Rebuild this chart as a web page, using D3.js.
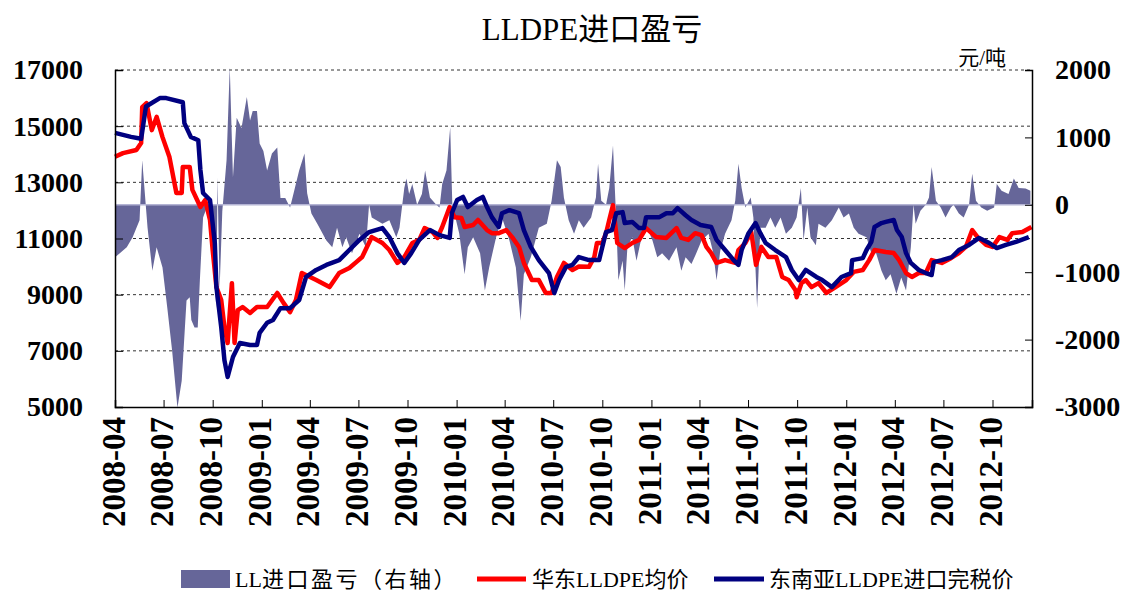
<!DOCTYPE html>
<html>
<head>
<meta charset="utf-8">
<script src="https://cdn.jsdelivr.net/npm/d3@7"></script>
<style>
  body { margin: 0; background: #fff; }
  svg { display: block; }
</style>
</head>
<body>
<div id="chart-area"></div>
<script>
// LL进口盈亏（右轴）, 元/吨
const profit = [
  ['2008-04-01', -777], ['2008-04-10', -720], ['2008-04-23', -630], ['2008-05-04', -480],
  ['2008-05-17', -230], ['2008-05-22', 660], ['2008-05-28', 60], ['2008-06-01', -340],
  ['2008-06-10', -980], ['2008-06-18', -630], ['2008-06-29', -930], ['2008-07-08', -1530],
  ['2008-07-17', -2160], ['2008-07-27', -3010], ['2008-08-04', -2610], ['2008-08-13', -1420],
  ['2008-08-19', -1370], ['2008-08-22', -1710], ['2008-08-28', -1820], ['2008-09-03', -1820],
  ['2008-09-07', -1120], ['2008-09-13', -190], ['2008-09-20', -40], ['2008-09-26', -190],
  ['2008-10-01', -830], ['2008-10-08', -1530], ['2008-10-10', 410], ['2008-10-14', -1250],
  ['2008-10-19', -100], ['2008-10-27', 660], ['2008-11-02', 2040], ['2008-11-08', 410],
  ['2008-11-15', 1290], ['2008-11-24', 1140], ['2008-12-04', 1600], ['2008-12-10', 1250],
  ['2008-12-15', 1390], ['2008-12-23', 1390], ['2008-12-28', 910], ['2009-01-04', 800],
  ['2009-01-11', 510], ['2009-01-20', 760], ['2009-01-30', 850], ['2009-02-05', 100],
  ['2009-02-14', 100], ['2009-02-23', -40], ['2009-03-04', 250], ['2009-03-12', 510],
  ['2009-03-22', 760], ['2009-03-27', 170], ['2009-04-04', -130], ['2009-04-15', -280],
  ['2009-05-02', -530], ['2009-05-13', -630], ['2009-05-22', -340], ['2009-06-01', -630],
  ['2009-06-08', -480], ['2009-06-19', -720], ['2009-07-03', -430], ['2009-07-15', -630],
  ['2009-07-21', 0], ['2009-07-26', -190], ['2009-08-15', -280], ['2009-08-28', -230],
  ['2009-09-10', -480], ['2009-09-16', -340], ['2009-09-25', 250], ['2009-09-29', 390],
  ['2009-10-04', 160], ['2009-10-10', 310], ['2009-10-19', 0], ['2009-10-28', 160],
  ['2009-11-03', 510], ['2009-11-12', 110], ['2009-11-24', 0], ['2009-11-30', -40],
  ['2009-12-05', 310], ['2009-12-13', 510], ['2009-12-20', 1150], ['2009-12-24', 0],
  ['2010-01-06', -430], ['2010-01-16', -1030], ['2010-01-22', -630], ['2010-02-01', -480],
  ['2010-02-14', -720], ['2010-02-23', -1270], ['2010-03-03', -930], ['2010-03-16', -480],
  ['2010-03-27', -190], ['2010-04-10', -530], ['2010-04-22', -930], ['2010-05-01', -1720],
  ['2010-05-07', -1030], ['2010-05-20', -780], ['2010-06-04', -340], ['2010-06-19', -280],
  ['2010-06-28', 60], ['2010-07-08', 660], ['2010-07-15', 560], ['2010-07-21', 110],
  ['2010-07-30', -230], ['2010-08-09', -430], ['2010-08-18', -230], ['2010-08-27', -340],
  ['2010-09-10', -190], ['2010-09-19', 110], ['2010-09-23', 610], ['2010-09-29', 60],
  ['2010-10-08', 0], ['2010-10-14', 250], ['2010-10-21', 880], ['2010-10-27', -230],
  ['2010-10-31', -1120], ['2010-11-08', -830], ['2010-11-12', -1270], ['2010-11-17', -630],
  ['2010-11-26', -480], ['2010-12-04', -830], ['2010-12-15', -430], ['2010-12-24', -340],
  ['2011-01-03', -530], ['2011-01-12', -780], ['2011-01-21', -720], ['2011-02-03', -830],
  ['2011-02-17', -630], ['2011-02-26', -980], ['2011-03-06', -780], ['2011-03-17', -880],
  ['2011-03-26', -720], ['2011-04-05', -530], ['2011-04-18', -430], ['2011-04-27', -720],
  ['2011-05-03', -1120], ['2011-05-10', -680], ['2011-05-19', -430], ['2011-05-31', -230],
  ['2011-06-07', 60], ['2011-06-13', 610], ['2011-06-19', 250], ['2011-06-26', -40],
  ['2011-07-06', 110], ['2011-07-11', -190], ['2011-07-18', -1530], ['2011-07-24', -340],
  ['2011-08-03', -340], ['2011-08-12', -190], ['2011-08-21', -340], ['2011-08-31', -190],
  ['2011-09-10', -430], ['2011-09-21', -340], ['2011-09-30', -190], ['2011-10-08', 250],
  ['2011-10-13', -530], ['2011-10-20', -40], ['2011-10-26', -480], ['2011-11-05', -600],
  ['2011-11-10', -280], ['2011-11-23', -340], ['2011-12-05', -230], ['2011-12-18', -40],
  ['2011-12-27', -190], ['2012-01-06', -130], ['2012-01-15', -340], ['2012-01-24', -430],
  ['2012-02-08', -480], ['2012-02-17', -720], ['2012-02-26', -720], ['2012-03-07', -980],
  ['2012-03-15', -1120], ['2012-03-24', -1030], ['2012-04-04', -1320], ['2012-04-13', -1080],
  ['2012-04-22', -1270], ['2012-05-01', -630], ['2012-05-06', 0], ['2012-05-10', -280],
  ['2012-05-19', -90], ['2012-05-29', 0], ['2012-06-04', 110], ['2012-06-09', 560],
  ['2012-06-17', 60], ['2012-06-26', -40], ['2012-07-05', -190], ['2012-07-15', -40],
  ['2012-07-20', 0], ['2012-07-30', -130], ['2012-08-08', -190], ['2012-08-18', 0],
  ['2012-08-24', 460], ['2012-08-31', 60], ['2012-09-10', -40], ['2012-09-21', -90],
  ['2012-10-04', -40], ['2012-10-09', 310], ['2012-10-18', 210], ['2012-10-31', 160],
  ['2012-11-10', 390], ['2012-11-19', 250], ['2012-12-02', 240], ['2012-12-11', 210]
]

// 华东LLDPE均价
const eastChina = [
  ['2008-04-01', 13910], ['2008-04-16', 14040], ['2008-05-11', 14150], ['2008-05-20', 14400],
  ['2008-05-22', 15680], ['2008-05-30', 15820], ['2008-06-09', 14860], ['2008-06-18', 15330],
  ['2008-06-29', 14610], ['2008-07-12', 13900], ['2008-07-25', 12620], ['2008-08-04', 12620],
  ['2008-08-06', 13550], ['2008-08-19', 13550], ['2008-08-24', 12730], ['2008-09-08', 12120],
  ['2008-09-17', 12370], ['2008-09-26', 11660], ['2008-10-01', 10590], ['2008-10-08', 9270],
  ['2008-10-17', 8810], ['2008-10-23', 7850], ['2008-10-29', 7280], ['2008-11-06', 9410],
  ['2008-11-11', 7280], ['2008-11-17', 8450], ['2008-11-26', 8560], ['2008-12-10', 8350],
  ['2008-12-23', 8560], ['2009-01-11', 8560], ['2009-01-30', 9060], ['2009-02-11', 8700],
  ['2009-02-23', 8380], ['2009-03-06', 8810], ['2009-03-17', 9770], ['2009-04-13', 9520],
  ['2009-05-08', 9270], ['2009-05-26', 9770], ['2009-06-14', 9950], ['2009-06-27', 10160],
  ['2009-07-08', 10340], ['2009-07-26', 11050], ['2009-08-15', 10840], ['2009-08-28', 10590],
  ['2009-09-12', 10130], ['2009-09-25', 10340], ['2009-10-10', 10840], ['2009-10-23', 10950],
  ['2009-11-02', 11370], ['2009-11-17', 11230], ['2009-11-26', 11020], ['2009-12-05', 11410],
  ['2009-12-19', 12120], ['2009-12-28', 11760], ['2010-01-10', 11730], ['2010-01-16', 11410],
  ['2010-02-01', 11480], ['2010-02-10', 11660], ['2010-02-27', 11300], ['2010-03-08', 11190],
  ['2010-03-21', 11190], ['2010-04-04', 11300], ['2010-04-15', 11050], ['2010-04-28', 10700],
  ['2010-05-07', 10130], ['2010-05-22', 9520], ['2010-06-04', 9520], ['2010-06-17', 9060],
  ['2010-06-28', 9060], ['2010-07-08', 9630], ['2010-07-21', 10130], ['2010-08-06', 9880],
  ['2010-08-18', 10000], ['2010-09-06', 9990], ['2010-09-16', 10340], ['2010-09-21', 10840],
  ['2010-10-01', 10840], ['2010-10-08', 11190], ['2010-10-14', 11660], ['2010-10-21', 12190],
  ['2010-10-29', 10840], ['2010-11-12', 10660], ['2010-11-26', 10840], ['2010-12-09', 10950],
  ['2010-12-22', 11370], ['2011-01-10', 11050], ['2011-01-29', 11020], ['2011-02-17', 11370],
  ['2011-02-26', 11020], ['2011-03-11', 10950], ['2011-03-24', 11190], ['2011-04-05', 11120],
  ['2011-04-14', 10700], ['2011-04-23', 10480], ['2011-05-03', 10130], ['2011-05-19', 10230],
  ['2011-06-07', 10130], ['2011-06-13', 10590], ['2011-06-26', 10840], ['2011-07-07', 11230],
  ['2011-07-16', 10060], ['2011-07-26', 10700], ['2011-08-08', 10340], ['2011-08-23', 10340],
  ['2011-09-03', 9630], ['2011-09-15', 9520], ['2011-09-28', 9160], ['2011-09-30', 8910],
  ['2011-10-09', 9410], ['2011-10-17', 9520], ['2011-10-28', 9270], ['2011-11-10', 9410],
  ['2011-11-25', 9060], ['2011-12-12', 9270], ['2012-01-01', 9520], ['2012-01-15', 9810],
  ['2012-02-01', 9880], ['2012-02-13', 10230], ['2012-02-23', 10590], ['2012-03-15', 10520],
  ['2012-03-30', 10480], ['2012-04-09', 10230], ['2012-04-22', 9770], ['2012-05-03', 9630],
  ['2012-05-16', 9770], ['2012-05-29', 9770], ['2012-06-09', 10230], ['2012-06-28', 10130],
  ['2012-07-15', 10300], ['2012-07-30', 10480], ['2012-08-12', 10700], ['2012-08-24', 11300],
  ['2012-09-03', 11050], ['2012-09-19', 10770], ['2012-10-01', 10700], ['2012-10-14', 11050],
  ['2012-10-29', 10950], ['2012-11-07', 11190], ['2012-11-26', 11230], ['2012-12-13', 11410]
]

// 东南亚LLDPE进口完税价
const seaImport = [
  ['2008-04-01', 14760], ['2008-05-01', 14620], ['2008-05-20', 14550], ['2008-05-29', 15700],
  ['2008-06-24', 16000], ['2008-07-06', 16000], ['2008-08-06', 15850], ['2008-08-09', 15110],
  ['2008-08-21', 14620], ['2008-09-04', 14500], ['2008-09-08', 13440], ['2008-09-13', 12620],
  ['2008-09-26', 12370], ['2008-10-05', 10840], ['2008-10-08', 9270], ['2008-10-17', 7850],
  ['2008-10-23', 6670], ['2008-10-29', 6070], ['2008-11-08', 6780], ['2008-11-21', 7280],
  ['2008-12-10', 7210], ['2008-12-23', 7210], ['2008-12-28', 7640], ['2009-01-11', 8000],
  ['2009-01-22', 8100], ['2009-02-05', 8520], ['2009-02-23', 8520], ['2009-03-12', 8810],
  ['2009-03-25', 9630], ['2009-04-13', 9880], ['2009-05-02', 10060], ['2009-05-26', 10230],
  ['2009-06-14', 10590], ['2009-07-03', 10950], ['2009-07-21', 11230], ['2009-08-15', 11370],
  ['2009-08-28', 11050], ['2009-09-12', 10480], ['2009-09-25', 10130], ['2009-10-08', 10480],
  ['2009-10-23', 10950], ['2009-11-12', 11300], ['2009-11-30', 11120], ['2009-12-19', 11020],
  ['2009-12-23', 11900], ['2010-01-02', 12370], ['2010-01-13', 12480], ['2010-01-22', 12120],
  ['2010-02-08', 12370], ['2010-02-19', 12480], ['2010-02-27', 12120], ['2010-03-08', 11760],
  ['2010-03-21', 11410], ['2010-03-27', 11900], ['2010-04-10', 12010], ['2010-04-28', 11900],
  ['2010-05-07', 11300], ['2010-05-20', 10700], ['2010-06-04', 10230], ['2010-06-23', 9770],
  ['2010-07-03', 9060], ['2010-07-12', 9520], ['2010-07-25', 9990], ['2010-08-06', 10060],
  ['2010-08-18', 10340], ['2010-09-06', 10230], ['2010-09-25', 10230], ['2010-10-01', 10700],
  ['2010-10-08', 11230], ['2010-10-19', 11300], ['2010-10-27', 11900], ['2010-11-08', 11940],
  ['2010-11-12', 11550], ['2010-11-26', 11590], ['2010-12-09', 11370], ['2010-12-18', 11370],
  ['2010-12-22', 11760], ['2011-01-16', 11760], ['2011-01-29', 11900], ['2011-02-10', 11900],
  ['2011-02-19', 12080], ['2011-03-06', 11830], ['2011-03-17', 11660], ['2011-04-03', 11480],
  ['2011-04-23', 11410], ['2011-05-03', 10950], ['2011-05-19', 10590], ['2011-06-04', 10230],
  ['2011-06-13', 10060], ['2011-06-19', 10590], ['2011-07-02', 11190], ['2011-07-15', 11550],
  ['2011-07-24', 11190], ['2011-08-03', 10840], ['2011-08-21', 10590], ['2011-09-10', 10340],
  ['2011-09-21', 9880], ['2011-10-04', 9520], ['2011-10-17', 9880], ['2011-11-06', 9630],
  ['2011-11-17', 9520], ['2011-12-05', 9270], ['2011-12-23', 9630], ['2012-01-10', 9770],
  ['2012-01-12', 10230], ['2012-02-01', 10300], ['2012-02-08', 10590], ['2012-02-17', 10880],
  ['2012-02-23', 11410], ['2012-03-07', 11550], ['2012-03-15', 11590], ['2012-03-30', 11660],
  ['2012-04-05', 11300], ['2012-04-14', 11050], ['2012-04-22', 10480], ['2012-05-01', 10130],
  ['2012-05-16', 9880], ['2012-05-29', 9770], ['2012-06-09', 9700], ['2012-06-13', 10160],
  ['2012-06-28', 10230], ['2012-07-17', 10340], ['2012-07-30', 10590], ['2012-08-18', 10770],
  ['2012-09-06', 11020], ['2012-09-25', 10840], ['2012-10-09', 10660], ['2012-10-26', 10770],
  ['2012-11-14', 10880], ['2012-12-08', 11050]
]

const leftTicks = [5000, 7000, 9000, 11000, 13000, 15000, 17000]
const rightTicks = [-3000, -2000, -1000, 0, 1000, 2000]
const dateRange = ['2008-04-01', '2012-12-14']

const legendItems = [['LL', '进口盈亏（右轴）'], ['', '华东LLDPE均价'], ['', '东南亚LLDPE进口完税价']]

const margin = {top: 70, right: 101, bottom: 189, left: 115}
const W = 1133, H = 596
const width = W - margin.left - margin.right
const height = H - margin.top - margin.bottom

const parse = d3.timeParse('%Y-%m-%d')
const serif = '"Liberation Serif", "Times New Roman", serif'
const cjk = '"Liberation Serif", "Noto Sans CJK SC", serif'

const svg = d3.select('#chart-area')
  .append('svg')
    .attr('width', W)
    .attr('height', H)

svg.append('text')
  .attr('x', 592)
  .attr('y', 40)
  .attr('text-anchor', 'middle')
  .attr('font-family', cjk)
  .attr('font-size', '31px')
  .text('LLDPE进口盈亏')

svg.append('text')
  .attr('x', 1006)
  .attr('y', 65)
  .attr('text-anchor', 'end')
  .attr('font-family', cjk)
  .attr('font-size', '21px')
  .text('元/吨')

const g = svg.append('g')
  .attr('transform', `translate(${margin.left},${margin.top})`)

const x = d3.scaleTime()
  .domain(dateRange.map(parse))
  .range([0, width])

const yL = d3.scaleLinear().domain([5000, 17000]).range([height, 0])
const yR = d3.scaleLinear().domain([-3000, 2000]).range([height, 0])

// dashed gridlines
g.selectAll('.grid')
  .data(leftTicks.slice(1))
  .enter().append('line')
    .attr('x1', 0).attr('x2', width)
    .attr('y1', d => yL(d)).attr('y2', d => yL(d))
    .attr('stroke', '#333')
    .attr('stroke-width', 1)
    .attr('stroke-dasharray', '3,3')

// profit area against right axis
const toPts = arr => arr.map(d => ({date: parse(d[0]), v: d[1]}))

const area = d3.area()
  .x(d => x(d.date))
  .y0(yR(0))
  .y1(d => yR(d.v))

g.append('path')
  .datum(toPts(profit))
  .attr('fill', '#666699')
  .attr('d', area)

g.append('line')
  .attr('x1', 0).attr('x2', width)
  .attr('y1', yR(0)).attr('y2', yR(0))
  .attr('stroke', '#b4b4d4')
  .attr('stroke-width', 1.5)

const line = d3.line()
  .x(d => x(d.date))
  .y(d => yL(d.v))

g.append('path')
  .datum(toPts(eastChina))
  .attr('fill', 'none')
  .attr('stroke', '#ff0000')
  .attr('stroke-width', 4.5)
  .attr('stroke-linejoin', 'round')
  .attr('d', line)

g.append('path')
  .datum(toPts(seaImport))
  .attr('fill', 'none')
  .attr('stroke', '#000080')
  .attr('stroke-width', 4.5)
  .attr('stroke-linejoin', 'round')
  .attr('d', line)

// axes
const xAxis = g.append('g')
  .attr('transform', `translate(0,${height})`)
  .call(d3.axisBottom(x)
    .ticks(d3.timeMonth.every(3))
    .tickSize(-7)
    .tickFormat(d3.timeFormat('%Y-%m')))

xAxis.selectAll('text')
  .attr('font-family', serif)
  .attr('font-weight', 'bold')
  .attr('font-size', '33px')
  .attr('fill', '#000')
  .attr('text-anchor', 'end')
  .attr('dy', null)
  .attr('y', 0)
  .attr('x', 0)
  .attr('transform', 'translate(9,10) rotate(-90)')

const yAxisL = g.append('g')
  .call(d3.axisLeft(yL).tickValues(leftTicks).tickSize(-8).tickPadding(32)
    .tickFormat(d => String(d)))

yAxisL.selectAll('text')
  .attr('font-family', serif)
  .attr('font-weight', 'bold')
  .attr('font-size', '28px')
  .attr('fill', '#000')

const yAxisR = g.append('g')
  .attr('transform', `translate(${width},0)`)
  .call(d3.axisRight(yR).tickValues(rightTicks).tickSize(-7).tickPadding(23)
    .tickFormat(d => String(d)))

yAxisR.selectAll('text')
  .attr('font-family', serif)
  .attr('font-weight', 'bold')
  .attr('font-size', '28px')
  .attr('fill', '#000')

for (const ax of [xAxis, yAxisL, yAxisR]) {
  ax.select('.domain').attr('stroke', '#000').attr('stroke-width', 1.5)
  ax.selectAll('.tick line').attr('stroke', '#000')
}

// legend
const legend = svg.append('g')
  .attr('font-family', cjk)
  .attr('font-size', '22px')

legend.append('rect')
  .attr('x', 181).attr('y', 570)
  .attr('width', 49).attr('height', 18)
  .attr('fill', '#666699')

legend.append('line')
  .attr('x1', 477).attr('x2', 526).attr('y1', 579).attr('y2', 579)
  .attr('stroke', '#ff0000').attr('stroke-width', 5)

legend.append('line')
  .attr('x1', 714).attr('x2', 764).attr('y1', 579).attr('y2', 579)
  .attr('stroke', '#000080').attr('stroke-width', 5)

const lbl = legend.selectAll('text.lbl')
  .data(legendItems)
  .enter().append('text')
    .attr('class', 'lbl')
    .attr('x', (d, i) => [235, 532, 769][i])
    .attr('y', 587)

lbl.append('tspan').text(d => d[0])
lbl.append('tspan')
  .attr('letter-spacing', (d, i) => i === 0 ? '2.5px' : null)
  .text(d => d[1])
</script>
</body>
</html>
